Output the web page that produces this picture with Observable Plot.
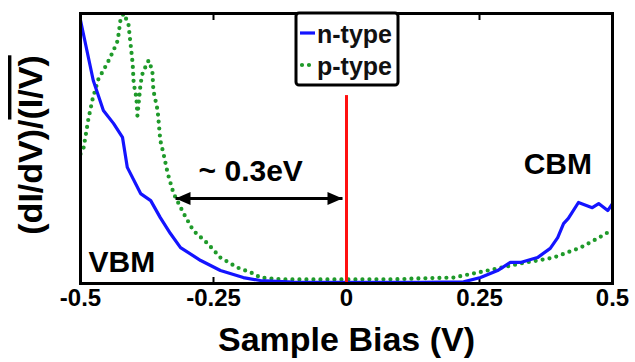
<!DOCTYPE html>
<html><head><meta charset="utf-8">
<script src="https://cdn.jsdelivr.net/npm/d3@7"></script>
<script src="https://cdn.jsdelivr.net/npm/@observablehq/plot@0.6"></script>
<style>body{margin:0;background:#fff;} svg{display:block;}</style>
</head><body><div id="chart"></div>
<script>
// n-type (solid blue) normalized conductance vs sample bias
const nTypeBias  = [-0.5, -0.476, -0.457, -0.438, -0.421, -0.412, -0.387, -0.368, -0.35, -0.331, -0.312, -0.274, -0.237, -0.194, -0.162, -0.1, 0, 0.1, 0.139, 0.22, 0.252, 0.284, 0.308, 0.327, 0.359, 0.383, 0.397, 0.408, 0.417, 0.436, 0.462, 0.474, 0.491, 0.5];
const nTypeValue = [0.975, 0.752, 0.641, 0.593, 0.541, 0.43, 0.333, 0.307, 0.244, 0.185, 0.133, 0.085, 0.048, 0.022, 0.011, 0.005, 0.004, 0.004, 0.004, 0.006, 0.022, 0.048, 0.078, 0.078, 0.096, 0.13, 0.17, 0.222, 0.241, 0.3, 0.281, 0.296, 0.27, 0.296];
// p-type (dotted green)
const pTypeBias  = [-0.5, -0.494, -0.485, -0.477, -0.466, -0.457, -0.447, -0.438, -0.43, -0.425, -0.419, -0.41, -0.406, -0.402, -0.4, -0.395, -0.393, -0.387, -0.383, -0.372, -0.365, -0.363, -0.355, -0.35, -0.344, -0.336, -0.325, -0.306, -0.288, -0.261, -0.237, -0.205, -0.175, -0.162, -0.12, 0, 0.1, 0.139, 0.201, 0.265, 0.327, 0.389, 0.44, 0.472, 0.491, 0.5];
const pTypeValue = [0.48, 0.504, 0.611, 0.685, 0.759, 0.789, 0.826, 0.863, 0.9, 0.974, 1.0, 0.963, 0.889, 0.815, 0.741, 0.689, 0.622, 0.741, 0.781, 0.826, 0.789, 0.715, 0.641, 0.53, 0.481, 0.407, 0.333, 0.259, 0.196, 0.148, 0.096, 0.059, 0.037, 0.022, 0.015, 0.015, 0.016, 0.019, 0.022, 0.048, 0.074, 0.096, 0.133, 0.167, 0.189, 0.2];
// axis ticks
const xTicks = [-0.5, -0.25, 0, 0.25, 0.5];
const xTickLabels = ["-0.5", "-0.25", "0", "0.25", "0.5"];
// annotations
const annoText   = ["~ 0.3eV", "VBM", "CBM"];
const annoBias   = [-0.18, -0.485, 0.333];
const annoLevel  = [0.381, 0.041, 0.407];
const annoAnchor = ["middle", "start", "start"];
// Fermi level marker and gap arrow
const fermiBias = [0];
const fermiTop = 0.696;
const gapArrowBias = [-0.3214, -0.0075];
const gapArrowLevel = 0.315;
const seriesNames = ["n-type", "p-type"];

const nType = nTypeBias.map((x, i) => ({x, y: nTypeValue[i]}));
const pType = pTypeBias.map((x, i) => ({x, y: pTypeValue[i]}));
const annos = annoText.map((t, i) => ({t, x: annoBias[i], y: annoLevel[i], a: annoAnchor[i]}));

const FONT = "'Liberation Sans', Arial, Helvetica, sans-serif";
const BLUE = "#1414ff", GREEN = "#1f9a2a", RED = "#ff1010";

const leftHead = {draw(ctx) { ctx.moveTo(0, 0); ctx.lineTo(15, -6.5); ctx.lineTo(15, 6.5); ctx.closePath(); }};
const rightHead = {draw(ctx) { ctx.moveTo(0, 0); ctx.lineTo(-15, -6.5); ctx.lineTo(-15, 6.5); ctx.closePath(); }};

const annoMark = anchor => Plot.text(annos.filter(d => d.a === anchor), {x: "x", y: "y", text: "t", textAnchor: anchor, lineAnchor: "bottom", fontSize: 30, fontWeight: "bold", fill: "#000"});

const plot = Plot.plot({
  width: 635, height: 362,
  marginLeft: 80, marginRight: 23, marginTop: 13, marginBottom: 79,
  style: {fontFamily: FONT, background: "#fff", color: "#000"},
  x: {domain: [-0.5, 0.5]},
  y: {domain: [0, 1], axis: null},
  marks: [
    Plot.axisX({anchor: "bottom", ticks: xTicks, tickFormat: d => xTickLabels[xTicks.indexOf(d)], tickSize: -6, tickPadding: 11, fontSize: 24, fontWeight: "bold", strokeWidth: 2, label: null}),
    Plot.axisX({anchor: "top", ticks: xTicks, tickFormat: () => "", tickSize: -6, strokeWidth: 2, label: null}),
    Plot.line(pType, {x: "x", y: "y", stroke: GREEN, strokeWidth: 4.2, strokeDasharray: "0 7", strokeLinecap: "round", clip: true}),
    Plot.line(nType, {x: "x", y: "y", stroke: BLUE, strokeWidth: 3.2, clip: true}),
    Plot.ruleX(fermiBias, {y1: 0, y2: fermiTop, stroke: RED, strokeWidth: 3}),
    Plot.link([0], {x1: () => gapArrowBias[0], x2: () => gapArrowBias[1], y1: () => gapArrowLevel, y2: () => gapArrowLevel, stroke: "#000", strokeWidth: 3}),
    Plot.dot([0], {x: () => gapArrowBias[0], y: () => gapArrowLevel, symbol: leftHead, fill: "#000", stroke: "none"}),
    Plot.dot([0], {x: () => gapArrowBias[1], y: () => gapArrowLevel, symbol: rightHead, fill: "#000", stroke: "none"}),
    annoMark("middle"),
    annoMark("start"),
    Plot.text(["Sample Bias (V)"], {frameAnchor: "bottom", dy: 67, lineAnchor: "bottom", fontSize: 34, fontWeight: "bold", fill: "#000"}),
    Plot.frame({stroke: "#000", strokeWidth: 3})
  ]
});

const svg = d3.select(plot);
// y-axis label with overlined (I/V)
const yl = svg.append("text")
  .attr("transform", "translate(42,145) rotate(-90)")
  .attr("text-anchor", "middle")
  .attr("font-family", FONT).attr("font-size", 34).attr("font-weight", "bold").attr("fill", "#000");
yl.append("tspan").text("(dI/dV)/");
yl.append("tspan").attr("text-decoration", "overline").style("text-decoration", "overline").text("(I/V)");

// legend box
const lg = svg.append("g").attr("text-anchor", "start");
lg.append("rect").attr("x", 296).attr("y", 13).attr("width", 102).attr("height", 72).attr("rx", 3)
  .attr("fill", "#fff").attr("stroke", "#000").attr("stroke-width", 3);
lg.append("line").attr("x1", 300).attr("x2", 315).attr("y1", 33).attr("y2", 33).attr("stroke", BLUE).attr("stroke-width", 3.2);
lg.append("line").attr("x1", 302).attr("x2", 316).attr("y1", 65).attr("y2", 65).attr("stroke", GREEN).attr("stroke-width", 4.2)
  .attr("stroke-dasharray", "0 7").attr("stroke-linecap", "round");
seriesNames.forEach((name, i) => {
  lg.append("text").attr("x", 317).attr("y", 43 + 32 * i).attr("text-anchor", "start").text(name)
    .attr("font-family", FONT).attr("font-size", 25).attr("font-weight", "bold").attr("fill", "#111");
});

document.getElementById("chart").appendChild(plot);
</script>
</body></html>
